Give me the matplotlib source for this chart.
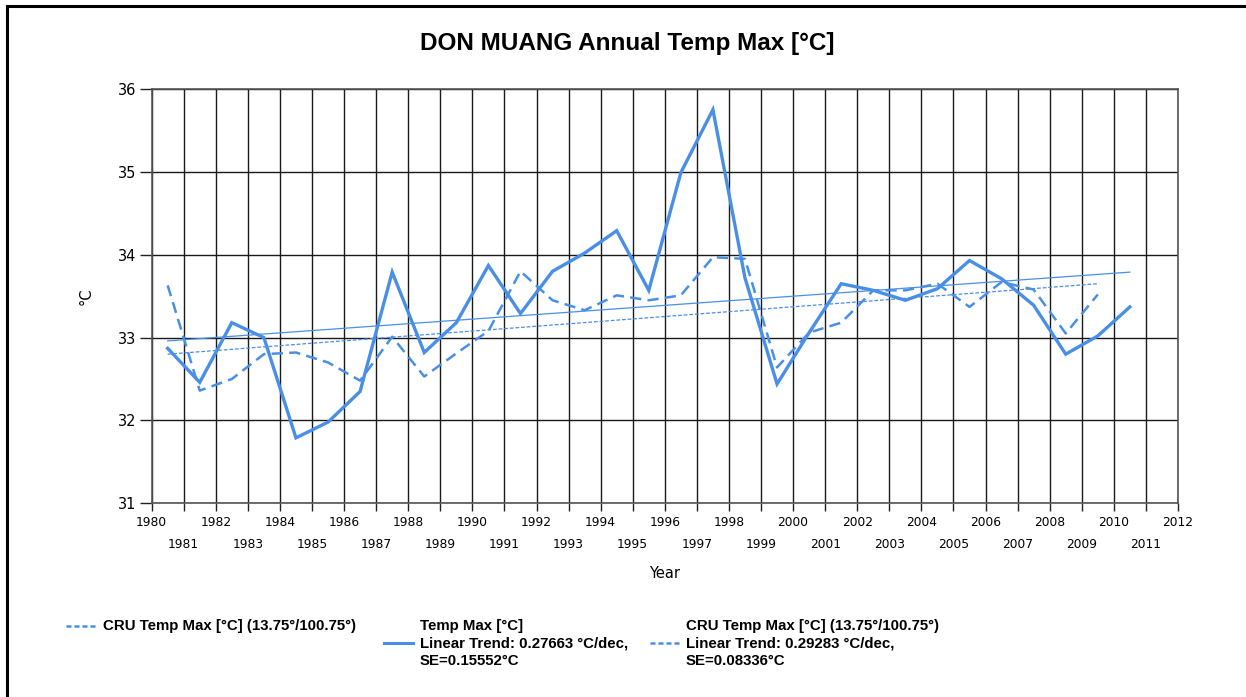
import matplotlib.pyplot as plt
from matplotlib.lines import Line2D
from matplotlib.patches import Rectangle
from matplotlib.ticker import FixedLocator

# station data (plotted at mid year)
years = list(range(1980, 2011))
temp_max = [32.87, 32.46, 33.18, 33.00, 31.79, 31.98, 32.35, 33.79, 32.82, 33.18,
            33.87, 33.29, 33.80, 34.02, 34.29, 33.57, 34.99, 35.75, 33.72, 32.44,
            33.06, 33.65, 33.57, 33.45, 33.59, 33.93, 33.71, 33.39, 32.80, 33.02,
            33.37]

# CRU grid (13.75/100.75)
cru_years = list(range(1980, 2010))
cru_max = [33.63, 32.36, 32.50, 32.80, 32.82, 32.70, 32.48, 33.01, 32.53, 32.81,
           33.08, 33.80, 33.45, 33.33, 33.51, 33.45, 33.51, 33.97, 33.95, 32.64,
           33.06, 33.18, 33.57, 33.57, 33.65, 33.37, 33.67, 33.58, 33.05, 33.52]

# linear trends, start/end values
trend_years = [1980, 2010]
trend_vals = [32.96, 33.79]
cru_trend_years = [1980, 2009]
cru_trend_vals = [32.80, 33.65]

blue = "#4a8fe6"

fig = plt.figure(figsize=(12.46, 6.97), dpi=100)
ax = fig.add_axes([0.1217, 0.2779, 0.8237, 0.5944])

mid = lambda ys: [y + 0.5 for y in ys]
ax.plot(mid(years), temp_max, color=blue, lw=2.4, solid_joinstyle="miter", zorder=5)
ax.plot(mid(cru_years), cru_max, color=blue, lw=1.8, ls=(0, (4.5, 2.5)), zorder=5)
ax.plot(mid(trend_years), trend_vals, color=blue, lw=0.9, zorder=4)
ax.plot(mid(cru_trend_years), cru_trend_vals, color=blue, lw=0.9, ls=(0, (3, 1.5)), zorder=4)

ax.set_xlim(1980, 2012)
ax.set_ylim(31, 36)
ax.set_yticks(range(31, 37))
ax.xaxis.set_major_locator(FixedLocator(list(range(1980, 2013, 2))))
ax.xaxis.set_minor_locator(FixedLocator(list(range(1981, 2012, 2))))
ax.set_xticklabels([str(y) for y in range(1980, 2013, 2)])
ax.set_xticklabels([str(y) for y in range(1981, 2012, 2)], minor=True)
ax.tick_params(axis="x", which="major", length=6, width=1, pad=3, labelsize=8.8, color="#222")
ax.tick_params(axis="x", which="minor", length=6, width=1, pad=19, labelsize=8.8, color="#222")
ax.tick_params(axis="y", length=9, width=1, pad=2, labelsize=10.5, color="#222")

ax.grid(True, which="both", color="#1a1a1a", lw=1)
ax.set_axisbelow(True)
for s in ax.spines.values():
    s.set_color("#555")
    s.set_linewidth(1.2)

ax.set_xlabel("Year", fontsize=10.5, labelpad=11)
ax.text(-0.064, 0.5, "°C", transform=ax.transAxes, rotation=90,
        ha="center", va="center", fontsize=10.5)

fig.text(0.5035, 0.938, "DON MUANG Annual Temp Max [°C]", ha="center", va="center",
         fontsize=17.5, fontweight="bold", family="Liberation Sans")

# outer frame
fig.add_artist(Rectangle((7 / 1246, -0.1), 1.2, (697 - 6) / 697 + 0.1,
                         transform=fig.transFigure, fill=False, lw=2.2, ec="black"))

# legend below chart
lf = dict(fontsize=10.8, fontweight="bold", family="Liberation Sans", va="center", ha="left")


def px(x, y):
    return x / 1246, 1 - y / 697


def sample(x0, y, ls, lw):
    a, b = px(x0, y)
    c, _ = px(x0 + 29, y)
    fig.add_artist(Line2D([a, c], [b, b], color=blue, lw=lw, ls=ls, transform=fig.transFigure))


sample(66, 626, (0, (2, 1.2)), 1.8)
fig.text(*px(103, 626), "CRU Temp Max [°C] (13.75°/100.75°)", **lf)

fig.text(*px(420, 626), "Temp Max [°C]", **lf)
sample(384, 643, "-", 2.2)
fig.text(*px(420, 643), "Linear Trend: 0.27663 °C/dec,", **lf)
fig.text(*px(420, 661), "SE=0.15552°C", **lf)

fig.text(*px(686, 626), "CRU Temp Max [°C] (13.75°/100.75°)", **lf)
sample(650, 643, (0, (2, 1.2)), 1.8)
fig.text(*px(686, 643), "Linear Trend: 0.29283 °C/dec,", **lf)
fig.text(*px(686, 661), "SE=0.08336°C", **lf)

fig.savefig("out.png", dpi=100)
